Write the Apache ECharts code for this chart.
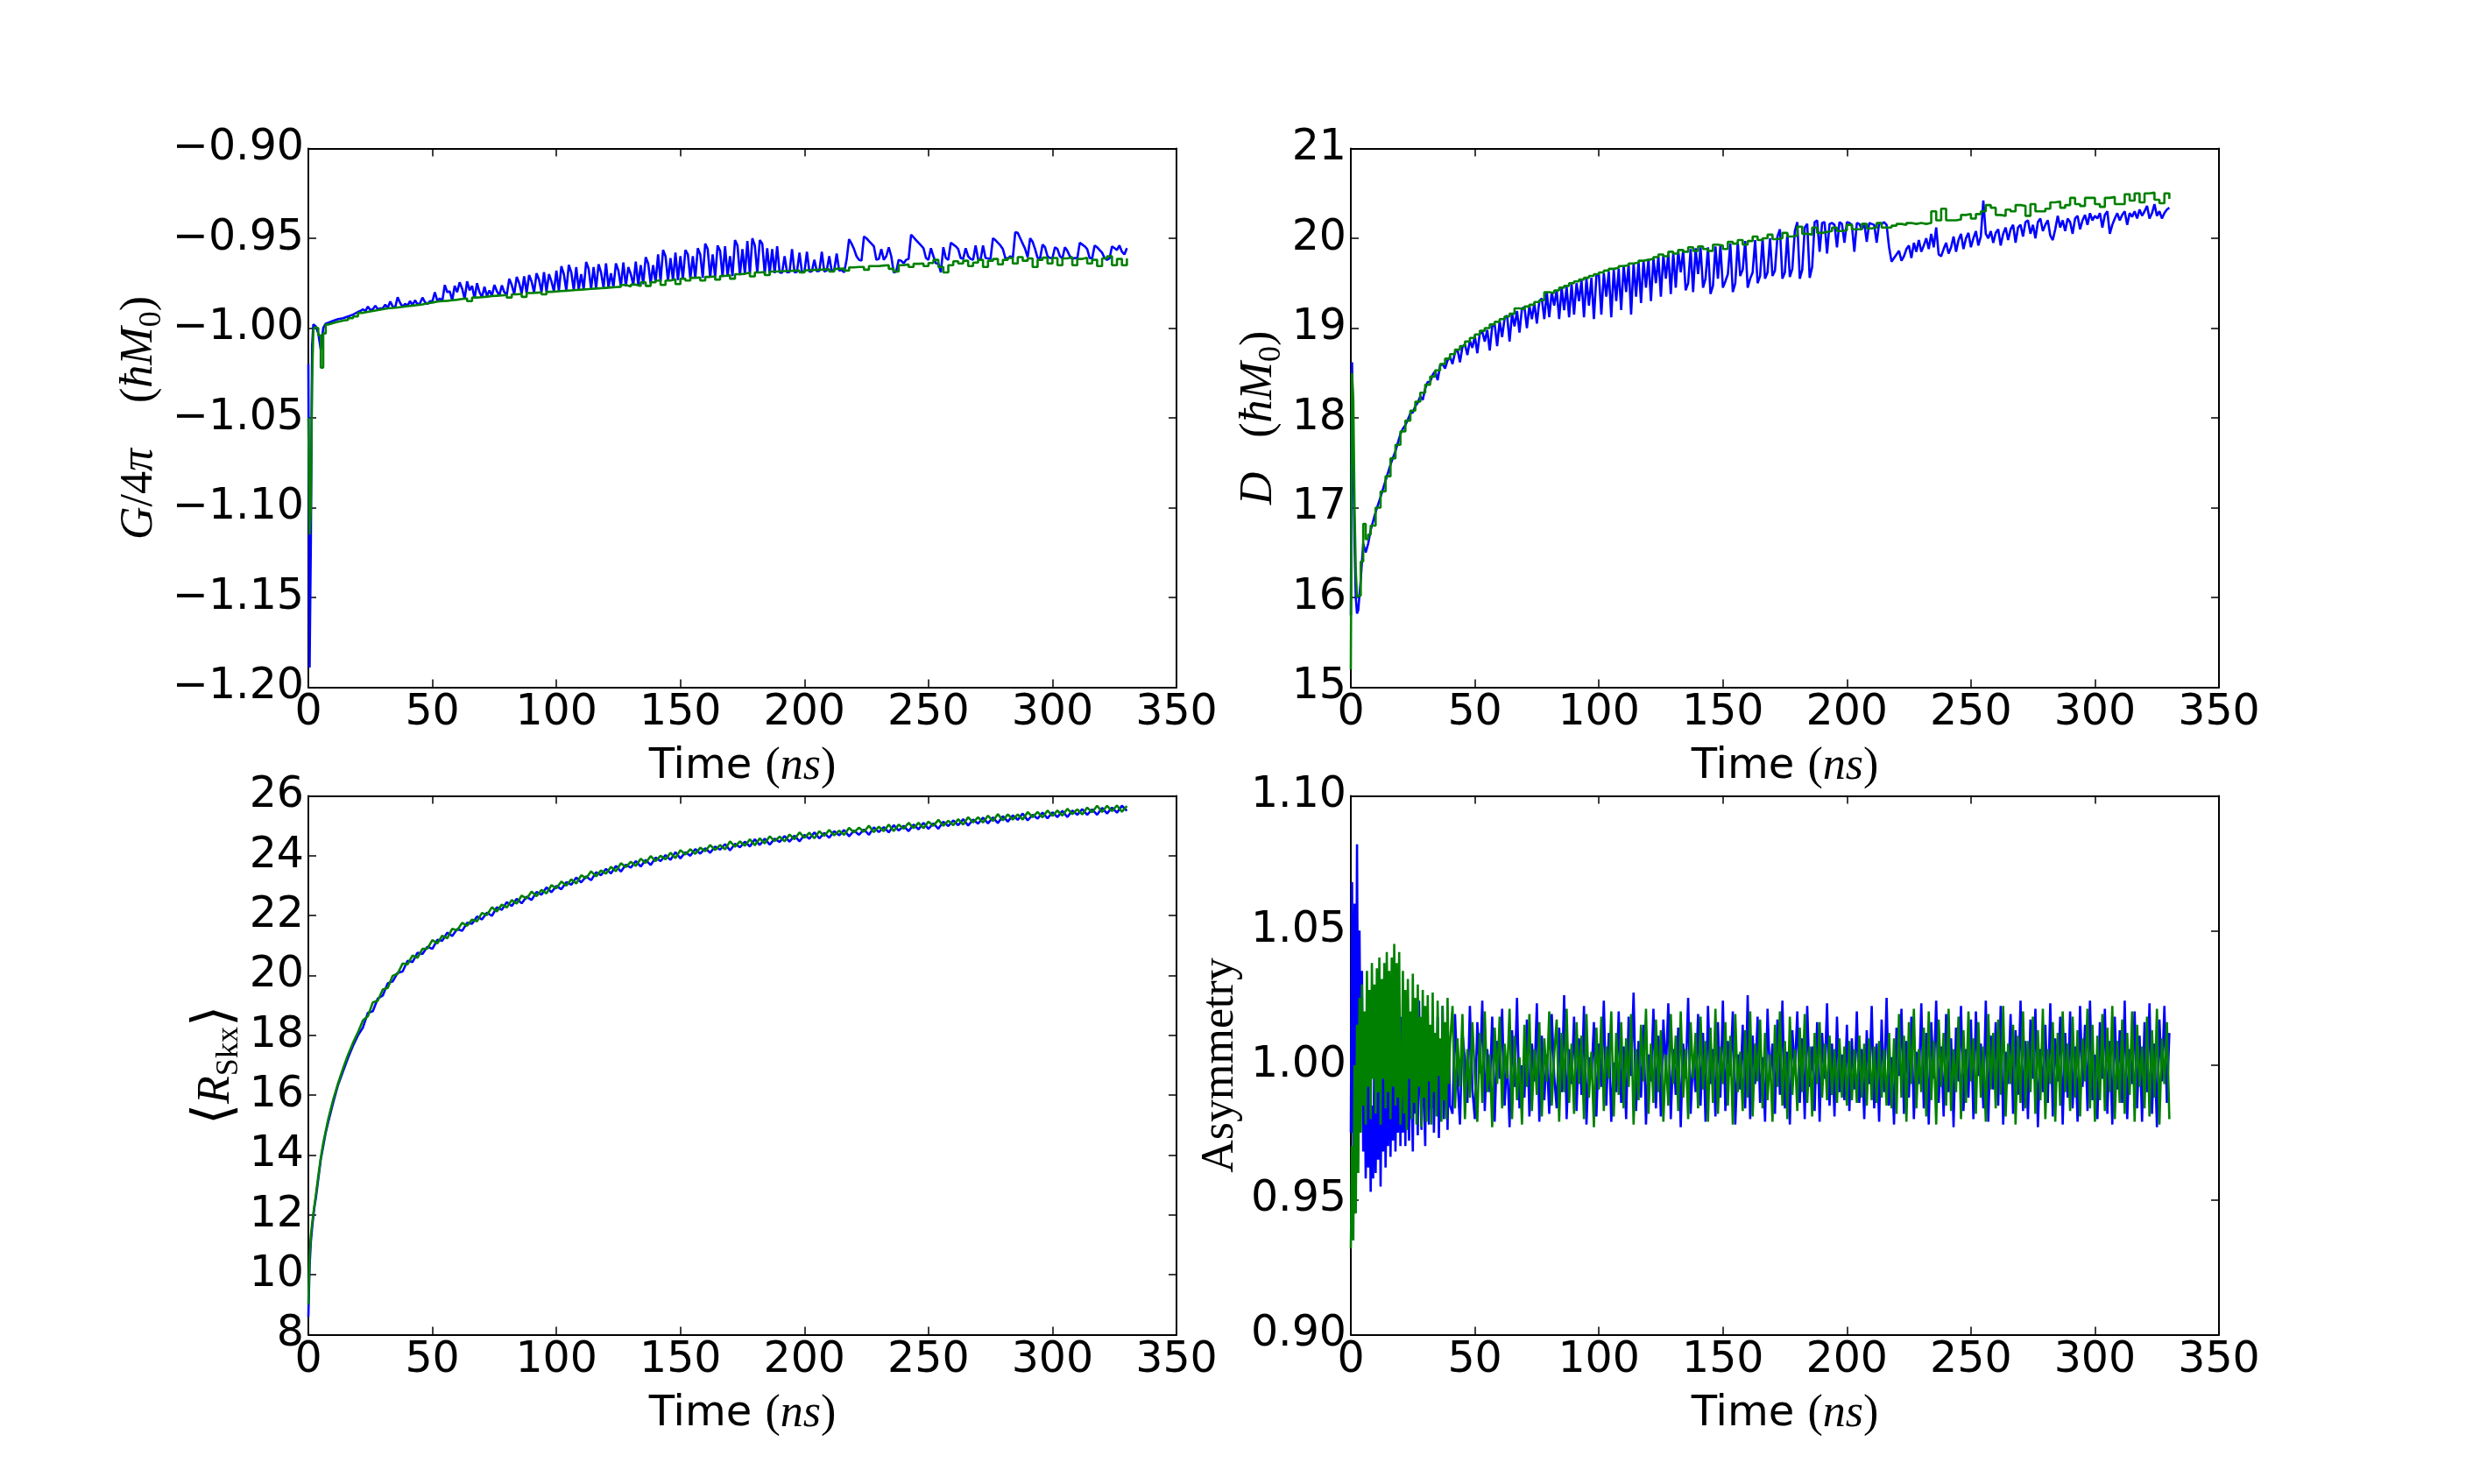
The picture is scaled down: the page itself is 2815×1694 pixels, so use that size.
<!DOCTYPE html>
<html>
<head>
<meta charset="utf-8">
<title>Skyrmion lattice relaxation</title>
<script src="https://cdn.jsdelivr.net/npm/echarts@6/dist/echarts.min.js"></script>
<style>
  html, body { margin: 0; padding: 0; background: #fff; }
  #chart { width: 2815px; height: 1694px; }
</style>
</head>
<body>
<div id="chart"></div>
<script>
// coarse time axis (ns): green G, green D and both <R> curves
const tA = [0,0.5,1,1.5,2,2.5,3,4,5,6,7,8,10,12,14,16,18,20,
  22,24,26,28,30,32,34,36,38,40,
  42,44,46,48,50,52,54,56,58,60,
  62,64,66,68,70,72,74,76,78,80,
  82,84,86,88,90,92,94,96,98,100,
  102,104,106,108,110,112,114,116,118,120,
  122,124,126,128,130,132,134,136,138,140,
  142,144,146,148,150,152,154,156,158,160,
  162,164,166,168,170,172,174,176,178,180,
  182,184,186,188,190,192,194,196,198,200,
  202,204,206,208,210,212,214,216,218,220,
  222,224,226,228,230,232,234,236,238,240,
  242,244,246,248,250,252,254,256,258,260,
  262,264,266,268,270,272,274,276,278,280,
  282,284,286,288,290,292,294,296,298,300,
  302,304,306,308,310,312,314,316,318,320,
  322,324,326,328,330];

// fine time axis (ns): the spiky blue G and D curves
const tD = [0,0.5,1,1.5,2,2.5,3,4,5,6,7,8,10,12,14,16,18,
  20,21,22,23,24,25,26,27,28,29, 30,31,32,33,34,35,36,37,38,39,
  40,41,42,43,44,45,46,47,48,49, 50,51,52,53,54,55,56,57,58,59,
  60,61,62,63,64,65,66,67,68,69, 70,71,72,73,74,75,76,77,78,79,
  80,81,82,83,84,85,86,87,88,89, 90,91,92,93,94,95,96,97,98,99,
  100,101,102,103,104,105,106,107,108,109, 110,111,112,113,114,115,116,117,118,119,
  120,121,122,123,124,125,126,127,128,129, 130,131,132,133,134,135,136,137,138,139,
  140,141,142,143,144,145,146,147,148,149, 150,151,152,153,154,155,156,157,158,159,
  160,161,162,163,164,165,166,167,168,169, 170,171,172,173,174,175,176,177,178,179,
  180,181,182,183,184,185,186,187,188,189, 190,191,192,193,194,195,196,197,198,199,
  200,201,202,203,204,205,206,207,208,209, 210,211,212,213,214,215,216,217,218,219,
  220,221,222,223,224,225,226,227,228,229, 230,231,232,233,234,235,236,237,238,239,
  240,241,242,243,244,245,246,247,248,249, 250,251,252,253,254,255,256,257,258,259,
  260,261,262,263,264,265,266,267,268,269, 270,271,272,273,274,275,276,277,278,279,
  280,281,282,283,284,285,286,287,288,289, 290,291,292,293,294,295,296,297,298,299,
  300,301,302,303,304,305,306,307,308,309, 310,311,312,313,314,315,316,317,318,319,
  320,321,322,323,324,325,326,327,328,329, 330];

// G / 4pi  (hbar M0)
const gBlue = [-1.020,-1.189,-1.120,-1.010,-0.998,-0.9985,-0.9990,-1.003,-1.012,-1.000,-0.9975,-0.9970,-0.9960,-0.9950,-0.9945,-0.9935,-0.9925,
  -0.9910,-0.9905,-0.9895,-0.9905,-0.9880,-0.9900,-0.9895,-0.9875,-0.9895,-0.9890,
  -0.9890,-0.9870,-0.9888,-0.9852,-0.9880,-0.9885,-0.9828,-0.9860,-0.9882,-0.9865,
  -0.9875,-0.9850,-0.9872,-0.9845,-0.9868,-0.9862,-0.9830,-0.9855,-0.9866,-0.9850,
  -0.9852,-0.9800,-0.9848,-0.9835,-0.9850,-0.9760,-0.9800,-0.9795,-0.9846,-0.9765,
  -0.9800,-0.9745,-0.9780,-0.9838,-0.9740,-0.9790,-0.9765,-0.9835,-0.9750,-0.9800,
  -0.9828,-0.9770,-0.9822,-0.9790,-0.9820,-0.9760,-0.9795,-0.9818,-0.9762,-0.9800,
  -0.9815,-0.9725,-0.9760,-0.9812,-0.9715,-0.9750,-0.9808,-0.9712,-0.9805,-0.9705,
  -0.9740,-0.9802,-0.9695,-0.9730,-0.9800,-0.9688,-0.9798,-0.9700,-0.9740,-0.9796,
  -0.9680,-0.9794,-0.9655,-0.9700,-0.9790,-0.9648,-0.9690,-0.9788,-0.9660,-0.9786,
  -0.9700,-0.9784,-0.9632,-0.9670,-0.9782,-0.9660,-0.9780,-0.9645,-0.9690,-0.9776,
  -0.9640,-0.9774,-0.9695,-0.9772,-0.9640,-0.9680,-0.9768,-0.9635,-0.9768,-0.9660,
  -0.9700,-0.9760,-0.9630,-0.9760,-0.9650,-0.9755,-0.9605,-0.9640,-0.9752,-0.9650,
  -0.9745,-0.9590,-0.9740,-0.9565,-0.9600,-0.9738,-0.9610,-0.9735,-0.9580,-0.9732,
  -0.9600,-0.9728,-0.9565,-0.9590,-0.9725,-0.9600,-0.9722,-0.9555,-0.9590,-0.9720,
  -0.9530,-0.9560,-0.9718,-0.9590,-0.9716,-0.9540,-0.9570,-0.9715,-0.9545,-0.9712,
  -0.9600,-0.9710,-0.9510,-0.9540,-0.9705,-0.9560,-0.9700,-0.9515,-0.9700,-0.9500,
  -0.9540,-0.9695,-0.9510,-0.9530,-0.9700,-0.9555,-0.9698,-0.9560,-0.9695,-0.9545,
  -0.9690,-0.9692,-0.9600,-0.9690,-0.9688,-0.9560,-0.9690,-0.9686,-0.9580,-0.9690,
  -0.9688,-0.9575,-0.9686,-0.9684,-0.9620,-0.9684,-0.9682,-0.9575,-0.9685,-0.9680,
  -0.9600,-0.9682,-0.9678,-0.9585,-0.9680,-0.9676,-0.9690,-0.9620,-0.9505,-0.9530,
  -0.9560,-0.9600,-0.9620,-0.9625,-0.9490,-0.9500,-0.9515,-0.9530,-0.9545,-0.9620,
  -0.9615,-0.9560,-0.9620,-0.9600,-0.9550,-0.9600,-0.9690,-0.9685,-0.9620,-0.9625,
  -0.9640,-0.9620,-0.9615,-0.9480,-0.9495,-0.9510,-0.9525,-0.9540,-0.9555,-0.9610,
  -0.9620,-0.9555,-0.9600,-0.9640,-0.9640,-0.9690,-0.9550,-0.9610,-0.9620,-0.9525,
  -0.9535,-0.9545,-0.9560,-0.9610,-0.9615,-0.9555,-0.9600,-0.9615,-0.9620,-0.9540,
  -0.9615,-0.9620,-0.9540,-0.9610,-0.9612,-0.9615,-0.9500,-0.9510,-0.9525,-0.9540,
  -0.9560,-0.9610,-0.9612,-0.9600,-0.9610,-0.9466,-0.9470,-0.9500,-0.9530,-0.9560,
  -0.9605,-0.9500,-0.9520,-0.9560,-0.9610,-0.9612,-0.9535,-0.9550,-0.9600,-0.9610,
  -0.9610,-0.9550,-0.9560,-0.9600,-0.9612,-0.9550,-0.9570,-0.9600,-0.9615,-0.9610,
  -0.9612,-0.9525,-0.9535,-0.9545,-0.9560,-0.9610,-0.9612,-0.9540,-0.9550,-0.9565,
  -0.9580,-0.9610,-0.9620,-0.9612,-0.9545,-0.9555,-0.9565,-0.9540,-0.9575,-0.9590,
  -0.9555];
const gGreen = [-1.050,-1.115,-1.100,-1.030,-1.001,-0.9995,-1.000,-1.004,-1.022,-1.003,-0.9980,-0.9972,-0.9965,-0.9958,-0.9955,-0.9945,-0.9935,-0.9915,
  -0.9910,-0.9905,-0.9900,-0.9895,-0.9890,-0.9888,-0.9885,-0.9882,-0.9878,-0.9875,
  -0.9872,-0.9868,-0.9862,-0.9858,-0.9852,-0.9850,-0.9848,-0.9845,-0.9842,-0.9838,
  -0.9835,-0.9850,-0.9830,-0.9828,-0.9825,-0.9822,-0.9820,-0.9818,-0.9816,-0.9830,
  -0.9812,-0.9810,-0.9826,-0.9805,-0.9803,-0.9801,-0.9812,-0.9798,-0.9796,-0.9794,
  -0.9792,-0.9790,-0.9788,-0.9786,-0.9784,-0.9782,-0.9780,-0.9778,-0.9776,-0.9774,
  -0.9772,-0.9770,-0.9760,-0.9768,-0.9758,-0.9766,-0.9745,-0.9765,-0.9745,-0.9735,
  -0.9760,-0.9735,-0.9728,-0.9755,-0.9725,-0.9735,-0.9720,-0.9718,-0.9735,-0.9715,
  -0.9712,-0.9730,-0.9710,-0.9705,-0.9725,-0.9700,-0.9698,-0.9690,-0.9712,-0.9690,
  -0.9688,-0.9705,-0.9685,-0.9684,-0.9683,-0.9682,-0.9680,-0.9680,-0.9690,-0.9678,
  -0.9676,-0.9675,-0.9674,-0.9672,-0.9685,-0.9670,-0.9668,-0.9680,-0.9662,-0.9660,
  -0.9660,-0.9675,-0.9655,-0.9655,-0.9652,-0.9650,-0.9670,-0.9685,-0.9650,-0.9645,
  -0.9660,-0.9642,-0.9640,-0.9655,-0.9638,-0.9620,-0.9660,-0.9690,-0.9650,-0.9628,
  -0.9640,-0.9625,-0.9655,-0.9635,-0.9620,-0.9660,-0.9625,-0.9615,-0.9645,-0.9620,
  -0.9610,-0.9640,-0.9605,-0.9625,-0.9612,-0.9660,-0.9620,-0.9608,-0.9640,-0.9610,
  -0.9650,-0.9612,-0.9605,-0.9650,-0.9615,-0.9608,-0.9640,-0.9620,-0.9655,-0.9612,
  -0.9600,-0.9650,-0.9615,-0.9650,-0.9612];

// D  (hbar M0)
const dBlue = [15.8,18.62,17.5,16.6,16.0,15.82,15.86,16.2,16.6,16.5,16.6,16.75,16.95,17.12,17.3,17.48,17.63,
  17.82,17.88,17.92,17.98,18.05,18.06,18.13,18.17,18.24,18.20,
  18.33,18.40,18.40,18.48,18.52,18.42,18.58,18.60,18.55,18.64,
  18.68,18.60,18.73,18.76,18.62,18.79,18.82,18.70,18.86,18.78,
  18.91,18.72,18.94,18.96,18.85,18.98,18.75,19.02,19.04,18.80,
  19.08,18.90,19.11,19.14,18.85,19.16,19.02,19.19,18.95,19.22,
  19.23,19.00,19.25,19.10,19.28,19.05,19.30,19.33,19.10,19.40,
  19.12,19.40,19.25,19.42,19.10,19.45,19.20,19.46,19.12,19.49,
  19.15,19.50,19.30,19.53,19.12,19.55,19.25,19.56,19.10,19.58,
  19.60,19.15,19.61,19.35,19.63,19.12,19.65,19.30,19.66,19.20,
  19.70,19.40,19.71,19.15,19.72,19.35,19.74,19.28,19.75,19.45,
  19.77,19.30,19.78,19.50,19.80,19.35,19.81,19.55,19.83,19.38,
  19.84,19.45,19.86,19.62,19.87,19.42,19.50,19.88,19.40,19.89,
  19.60,19.90,19.45,19.55,19.90,19.38,19.47,19.91,19.55,19.92,
  19.45,19.52,19.60,19.94,19.40,19.50,19.96,19.58,19.65,19.97,
  19.45,19.55,19.62,19.98,19.50,19.58,20.00,19.55,19.62,20.00,
  19.58,19.64,20.02,20.10,19.55,19.62,20.05,19.57,19.66,20.08,
  20.18,19.55,19.65,20.12,20.16,19.56,19.68,20.18,20.20,19.85,
  20.17,20.18,19.83,20.16,20.17,20.15,19.90,20.18,20.16,19.95,
  20.18,20.17,20.15,19.85,20.17,20.16,20.10,20.17,19.96,20.17,
  20.16,20.15,19.95,20.17,20.16,20.18,20.15,19.90,19.74,19.78,
  19.82,19.86,19.75,19.80,19.88,19.92,19.78,19.95,19.85,19.98,
  19.85,19.92,20.00,19.88,20.05,19.90,20.12,19.82,19.80,19.88,
  19.95,19.83,19.90,20.02,19.85,19.98,20.05,19.88,20.00,20.06,
  19.90,20.00,20.08,19.92,20.02,20.42,20.05,20.00,20.08,19.95,
  20.06,20.10,19.92,20.05,20.12,19.98,20.10,20.15,19.95,20.12,
  20.15,20.02,20.18,20.20,20.05,20.15,20.00,20.18,20.22,20.08,
  20.15,20.20,20.03,19.98,20.10,20.25,20.12,20.20,20.08,20.22,
  20.18,20.05,20.22,20.25,20.10,20.20,20.26,20.15,20.28,20.20,
  20.25,20.22,20.28,20.12,20.26,20.30,20.05,20.15,20.22,20.28,
  20.20,20.26,20.30,20.15,20.28,20.24,20.30,20.22,20.32,20.25,
  20.30,20.36,20.22,20.28,20.38,20.25,20.30,20.22,20.28,20.32,
  20.34];
const dGreen = [15.2,18.5,18.2,17.0,16.3,16.0,16.02,16.4,16.82,16.65,16.7,16.8,17.0,17.18,17.35,17.55,17.7,17.85,
  17.97,18.08,18.18,18.28,18.37,18.46,18.53,18.60,18.66,18.71,
  18.76,18.80,18.85,18.89,18.93,18.97,19.00,19.04,19.07,19.10,
  19.13,19.16,19.22,19.21,19.24,19.26,19.29,19.31,19.40,19.39,
  19.42,19.45,19.47,19.50,19.52,19.54,19.56,19.58,19.60,19.62,
  19.64,19.66,19.67,19.69,19.70,19.72,19.73,19.75,19.76,19.77,
  19.79,19.82,19.80,19.85,19.83,19.87,19.85,19.90,19.86,19.91,
  19.88,19.86,19.93,19.92,19.88,19.96,19.94,19.98,19.93,19.97,
  20.02,19.98,20.00,20.04,19.99,20.00,20.06,20.02,20.03,20.13,
  20.05,20.04,20.12,20.06,20.07,20.08,20.12,20.08,20.09,20.15,
  20.10,20.10,20.16,20.11,20.12,20.17,20.12,20.12,20.14,20.16,
  20.15,20.17,20.16,20.17,20.16,20.17,20.30,20.20,20.33,20.20,
  20.20,20.21,20.26,20.27,20.22,20.27,20.30,20.37,20.34,20.26,
  20.25,20.32,20.30,20.37,20.36,20.25,20.38,20.30,20.30,20.33,
  20.40,20.41,20.34,20.37,20.45,20.38,20.36,20.45,20.45,20.38,
  20.35,20.45,20.46,20.38,20.38,20.49,20.42,20.50,20.40,20.50,
  20.51,20.43,20.39,20.50,20.44];

// <R_Skx>
const rBlue = [8.60,10.30,11.10,11.55,11.95,12.30,12.55,13.20,13.85,14.30,14.75,15.10,15.75,16.35,16.80,17.25,17.65,18.00,
  18.26,18.75,18.81,19.23,19.33,19.74,19.80,20.09,20.13,20.49,
  20.45,20.76,20.72,20.96,20.89,21.19,21.16,21.43,21.32,21.55,
  21.49,21.76,21.73,21.97,21.87,22.10,21.99,22.28,22.19,22.45,
  22.32,22.56,22.41,22.63,22.52,22.79,22.70,22.94,22.78,22.99,
  22.88,23.12,23.03,23.27,23.11,23.31,23.18,23.45,23.35,23.56,
  23.41,23.66,23.47,23.70,23.60,23.82,23.64,23.86,23.69,23.94,
  23.82,24.02,23.86,24.12,23.91,24.12,24.00,24.22,24.07,24.25,
  24.10,24.31,24.20,24.39,24.18,24.40,24.28,24.47,24.31,24.55,
  24.36,24.57,24.37,24.57,24.46,24.66,24.47,24.67,24.48,24.70,
  24.57,24.78,24.58,24.76,24.60,24.82,24.68,24.86,24.65,24.84,
  24.70,24.88,24.70,24.95,24.79,24.96,24.78,25.02,24.84,25.00,
  24.82,25.04,24.88,25.10,24.90,25.08,24.90,25.14,24.99,25.18,
  25.02,25.22,25.01,25.21,25.07,25.27,25.08,25.28,25.09,25.32,
  25.14,25.35,25.20,25.41,25.18,25.37,25.24,25.44,25.25,25.45,
  25.29,25.50,25.29,25.51,25.37,25.56,25.37,25.55,25.37,25.60,
  25.41,25.61,25.44,25.67,25.50];
const rGreen = [9.00,10.60,11.30,11.70,12.05,12.35,12.65,13.30,13.90,14.40,14.80,15.20,15.85,16.40,16.90,17.35,17.75,18.10,
  18.50,18.64,19.10,19.16,19.53,19.58,19.99,20.06,20.40,20.37,
  20.67,20.59,20.89,20.90,21.18,21.07,21.33,21.24,21.56,21.51,
  21.76,21.66,21.87,21.81,22.09,22.02,22.28,22.14,22.37,22.27,
  22.52,22.40,22.67,22.57,22.80,22.65,22.86,22.74,23.02,22.91,
  23.14,23.00,23.21,23.07,23.35,23.25,23.48,23.31,23.51,23.40,
  23.63,23.48,23.75,23.62,23.80,23.66,23.90,23.76,23.99,23.82,
  24.00,23.88,24.10,23.92,24.19,24.04,24.22,24.06,24.27,24.15,
  24.36,24.19,24.36,24.21,24.48,24.30,24.48,24.33,24.55,24.35,
  24.58,24.41,24.65,24.49,24.64,24.48,24.71,24.55,24.78,24.60,
  24.77,24.58,24.82,24.66,24.86,24.68,24.84,24.70,24.93,24.78,
  24.94,24.80,25.00,24.79,24.97,24.82,25.04,24.82,25.04,24.90,
  25.10,24.92,25.10,24.92,25.14,25.00,25.20,25.00,25.17,25.02,
  25.22,25.04,25.29,25.11,25.29,25.11,25.34,25.16,25.39,25.18,
  25.38,25.21,25.38,25.21,25.46,25.29,25.46,25.28,25.51,25.33,
  25.51,25.34,25.57,25.39,25.55,25.38,25.61,25.45,25.67,25.46,
  25.67,25.49,25.68,25.47,25.66];

// asymmetry panel, its own time axis
const tB = [0,0.5,1,1.5,2,2.5,3,3.5,4,4.5,5,5.5,6,6.5,7,7.5,8,8.5,9,9.5,
  10,10.5,11,11.5,12,12.5,13,13.5,14,14.5,15,15.5,16,16.5,17,17.5,18,18.5,19,19.5,
  20,20.5,21,21.5,22,22.5,23,23.5,24,24.5,25,25.5,26,26.5,27,27.5,28,28.5,29,29.5,
  30,30.5,31,31.5,32,32.5,33,33.5,34,34.5,35,35.5,36,36.5,37,37.5,38,38.5,39,39.5,40,
  41,42,43,44,45,46,47,48,49,50, 51,52,53,54,55,56,57,58,59,60,
  61,62,63,64,65,66,67,68,69,70, 71,72,73,74,75,76,77,78,79,80,
  81,82,83,84,85,86,87,88,89,90, 91,92,93,94,95,96,97,98,99,100,
  101,102,103,104,105,106,107,108,109,110, 111,112,113,114,115,116,117,118,119,120,
  121,122,123,124,125,126,127,128,129,130, 131,132,133,134,135,136,137,138,139,140,
  141,142,143,144,145,146,147,148,149,150, 151,152,153,154,155,156,157,158,159,160,
  161,162,163,164,165,166,167,168,169,170, 171,172,173,174,175,176,177,178,179,180,
  181,182,183,184,185,186,187,188,189,190, 191,192,193,194,195,196,197,198,199,200,
  201,202,203,204,205,206,207,208,209,210, 211,212,213,214,215,216,217,218,219,220,
  221,222,223,224,225,226,227,228,229,230, 231,232,233,234,235,236,237,238,239,240,
  241,242,243,244,245,246,247,248,249,250, 251,252,253,254,255,256,257,258,259,260,
  261,262,263,264,265,266,267,268,269,270, 271,272,273,274,275,276,277,278,279,280,
  281,282,283,284,285,286,287,288,289,290, 291,292,293,294,295,296,297,298,299,300,
  301,302,303,304,305,306,307,308,309,310, 311,312,313,314,315,316,317,318,319,320,
  321,322,323,324,325,326,327,328,329,330];
const aBlue = [0.975,1.068,0.962,1.060,0.985,1.082,0.978,1.050,0.990,1.035,0.968,1.010,0.958,0.995,0.962,1.000,0.953,0.985,0.958,1.005,
  0.960,0.990,0.965,1.020,0.955,0.998,0.968,1.015,0.962,0.992,0.970,1.025,0.966,1.000,0.972,1.018,0.968,1.005,0.975,1.022,
  0.970,1.018,0.975,1.005,0.970,1.022,0.985,0.972,1.012,0.990,0.968,1.020,0.982,1.008,0.974,1.024,0.992,0.976,1.015,0.986,
  0.970,1.019,0.995,0.978,1.010,0.984,1.021,0.975,1.002,0.988,1.018,0.973,1.006,0.990,1.022,0.980,0.996,1.014,0.976,1.008,0.985,
  0.982,1.019,0.995,0.978,1.012,1.002,0.986,1.022,0.991,0.980,
  1.016,0.997,1.024,0.983,1.006,0.990,1.018,0.979,1.009,0.995,
  1.021,0.985,1.003,0.977,1.013,0.992,1.025,0.984,1.000,0.988,
  1.017,0.981,1.008,0.994,1.023,0.979,1.011,0.987,1.004,0.982,
  1.019,0.996,0.984,1.014,0.990,1.026,0.980,1.006,0.993,1.018,
  0.983,1.010,0.989,1.022,0.978,1.003,0.995,1.016,0.981,1.008,
  0.992,1.024,0.985,1.012,0.979,1.001,0.990,1.020,0.986,1.007,
  0.980,1.018,0.996,1.027,0.983,1.009,0.988,1.015,0.978,1.004,
  0.994,1.021,0.984,1.011,0.981,1.017,0.997,1.023,0.980,1.006,
  0.989,1.014,0.977,1.008,0.995,1.025,0.982,1.003,0.990,1.019,
  0.985,1.012,0.979,1.022,0.993,1.006,0.981,1.016,0.988,1.024,
  0.983,1.009,0.996,1.020,0.978,1.004,0.991,1.015,0.984,1.026,
  0.980,1.011,0.993,1.018,0.986,1.003,0.979,1.021,0.995,1.008,
  0.982,1.017,0.989,1.024,0.984,1.005,0.978,1.013,0.997,1.020,
  0.986,1.010,0.980,1.022,0.992,1.007,0.983,1.016,0.979,1.012,
  0.995,1.023,0.985,1.008,0.981,1.018,0.990,1.004,0.987,1.015,
  0.983,1.010,0.991,1.020,0.986,1.006,0.980,1.013,0.993,1.022,
  0.984,1.008,0.979,1.017,0.990,1.025,0.985,1.003,0.978,1.014,
  0.996,1.021,0.982,1.009,0.988,1.018,0.980,1.005,0.993,1.023,
  0.984,1.012,0.978,1.016,0.995,1.024,0.986,1.007,0.981,1.019,
  0.990,1.010,0.977,1.014,0.994,1.022,0.983,1.006,0.988,1.017,
  0.980,1.020,0.996,1.008,0.984,1.024,0.979,1.011,0.991,1.016,
  0.985,1.022,0.978,1.005,0.993,1.019,0.982,1.013,0.989,1.024,
  0.983,1.009,0.980,1.017,0.995,1.021,0.977,1.006,0.990,1.015,
  0.986,1.023,0.981,1.010,0.994,1.018,0.978,1.012,0.988,1.020,
  0.984,1.007,0.979,1.022,0.992,1.015,0.983,1.024,0.987,1.004,
  0.980,1.016,0.995,1.021,0.982,1.009,0.978,1.018,0.991,1.013,
  0.986,1.024,0.980,1.006,0.993,1.020,0.984,1.011,0.979,1.016,
  0.990,1.023,0.982,1.008,0.977,1.017,0.994,1.022,0.986,1.012];
const aGreen = [0.932,0.970,0.935,1.000,0.945,1.015,0.960,1.025,0.975,1.030,0.985,1.020,0.978,1.035,0.992,1.028,0.980,1.038,0.995,1.030,
  0.982,1.036,0.990,1.040,0.978,1.032,0.995,1.038,0.984,1.042,0.990,1.035,0.980,1.040,0.992,1.045,0.985,1.038,0.988,1.042,
  0.978,0.990,1.035,0.982,1.028,0.976,1.032,0.995,1.020,0.980,1.034,0.986,1.025,0.978,1.030,0.992,1.018,0.977,1.028,0.988,
  1.022,0.979,1.026,0.994,1.015,0.978,1.027,0.990,1.012,0.981,1.024,0.996,1.010,0.979,1.022,0.987,1.016,0.980,1.025,0.993,1.008,
  1.022,0.984,1.010,0.992,1.019,0.980,1.006,0.988,1.016,0.996,
  0.979,1.012,0.986,1.020,0.990,1.004,0.977,1.014,0.993,1.018,
  0.984,1.008,0.995,1.021,0.980,1.011,0.987,1.003,0.978,1.015,
  0.992,1.019,0.983,1.006,0.989,1.016,0.981,1.010,0.994,1.020,
  0.985,1.004,1.017,0.979,1.012,0.990,1.021,0.986,1.008,0.982,
  1.016,0.993,1.011,0.980,1.019,0.988,1.005,0.977,1.014,0.991,
  1.018,0.983,1.007,0.995,1.020,0.981,1.012,0.989,1.016,0.984,
  1.010,0.992,1.019,0.978,1.006,0.987,1.015,0.994,1.021,0.982,
  1.008,0.986,1.017,0.990,1.013,0.979,1.004,0.985,1.019,0.993,
  1.011,0.983,1.020,0.988,1.006,0.980,1.016,0.995,1.012,0.984,
  1.018,0.991,1.009,0.979,1.014,0.986,1.021,0.982,1.007,0.993,
  1.016,0.985,1.011,0.978,1.019,0.990,1.005,0.983,1.013,0.988,
  1.020,0.981,1.008,0.994,1.017,0.984,1.012,0.987,1.004,0.979,
  1.015,0.992,1.020,0.985,1.009,0.980,1.018,0.989,1.006,0.983,
  1.014,0.990,1.019,0.986,1.007,0.981,1.012,0.993,1.016,0.988,
  1.008,0.987,1.011,0.989,1.006,0.986,1.010,0.988,1.007,0.985,
  1.009,0.987,1.006,0.986,1.011,0.988,1.008,0.985,1.010,0.987,
  1.007,0.986,1.009,0.988,1.006,0.985,1.012,0.984,1.010,0.982,
  1.019,0.988,1.011,0.979,1.016,0.993,1.021,0.984,1.006,0.990,
  1.014,0.981,1.020,0.987,1.009,0.978,1.017,0.992,1.012,0.985,
  1.021,0.983,1.006,0.990,1.018,0.980,1.013,0.986,1.020,0.994,
  1.010,0.982,1.016,0.988,1.007,0.979,1.019,0.991,1.012,0.984,
  1.017,0.989,1.022,0.981,1.008,0.993,1.015,0.978,1.011,0.986,
  1.020,0.984,1.009,0.990,1.018,0.982,1.013,0.987,1.021,0.980,
  1.006,0.993,1.016,0.979,1.012,0.985,1.020,0.990,1.008,0.983,
  1.018,0.988,1.013,0.981,1.010,0.994,1.021,0.984,1.015,0.979,
  1.011,0.987,1.019,0.983,1.014,0.990,1.022,0.980,1.009,0.986,
  1.017,0.982,1.012,0.989,1.020,0.979,1.015,0.992,1.007,0.984,
  1.018,0.981,1.013,0.988,1.021,0.978,1.010,0.993,1.016,0.980];

const BLUE = '#0000ff';
const GREEN = '#008000';
const SERIF = "'Liberation Serif', 'DejaVu Serif', serif";
const SANS = "'DejaVu Sans', sans-serif";

// math-style axis titles
const rich = {
  it:  { fontFamily: SERIF, fontStyle: 'italic', fontSize: 52, lineHeight: 66, color: '#000' },
  rm:  { fontFamily: SERIF, fontSize: 52, lineHeight: 66, color: '#000' },
  sub: { fontFamily: SERIF, fontSize: 36, lineHeight: 36, verticalAlign: 'bottom', color: '#000' },
  br:  { fontFamily: SANS, fontSize: 62, lineHeight: 66, color: '#000' },
  sans:{ fontFamily: SANS, fontSize: 48, lineHeight: 66, color: '#000' }
};

const panels = [
  { left: 352, top: 169.5, min: -1.2, max: -0.9, step: 0.05, dec: 2,
    name: '{it|G}{rm|/4}{it|π}{rm|    (}{it|ħM}{sub|0}{rm|)}', gap: 160,
    tBlue: tD, blue: gBlue, tGreen: tA, green: gGreen, stepped: true },
  { left: 1542, top: 169.5, min: 15, max: 21, step: 1, dec: 0,
    name: '{it|D}{rm|   (}{it|ħM}{sub|0}{rm|)}', gap: 72,
    tBlue: tD, blue: dBlue, tGreen: tA, green: dGreen, stepped: true },
  { left: 352, top: 908.5, min: 8, max: 26, step: 2, dec: 0,
    name: '{br|⟨}{it|R}{sub|Skx}{br|⟩}', gap: 72,
    tBlue: tA, blue: rBlue, tGreen: tA, green: rGreen, stepped: false },
  { left: 1542, top: 908.5, min: 0.9, max: 1.1, step: 0.05, dec: 2,
    name: '{rm|Asymmetry}', gap: 116,
    tBlue: tB, blue: aBlue, tGreen: tB, green: aGreen, stepped: false }
];

const fmt = dec => v => {
  const s = Math.abs(v).toFixed(dec);
  return v < -1e-9 ? '\u2212' + s : s;
};

const line = { lineStyle: { color: '#000', width: 2 } };
const tick = { inside: true, length: 9, lineStyle: { color: '#000', width: 1.5 } };
const label = { color: '#000', fontFamily: SANS, fontSize: 49 };

const grid = [], xAxis = [], yAxis = [], series = [];
panels.forEach((p, i) => {
  grid.push({ left: p.left, top: p.top, width: 991, height: 615, outerBoundsMode: 'none' });
  xAxis.push({
    type: 'value', gridIndex: i, position: 'bottom', min: 0, max: 350, interval: 50,
    axisLine: Object.assign({ onZero: false }, line), axisTick: tick, splitLine: { show: false },
    axisLabel: Object.assign({ margin: 5 }, label),
    name: '{sans|Time }{rm|(}{it|ns}{rm|)}', nameLocation: 'middle', nameGap: 58,
    nameMoveOverlap: false, nameTextStyle: { rich }
  });
  xAxis.push({
    type: 'value', gridIndex: i, position: 'top', min: 0, max: 350, interval: 50,
    axisLine: Object.assign({ onZero: false }, line), axisTick: tick,
    axisLabel: { show: false }, splitLine: { show: false }
  });
  yAxis.push({
    type: 'value', gridIndex: i, position: 'left', min: p.min, max: p.max, interval: p.step,
    axisLine: Object.assign({ onZero: false }, line), axisTick: tick, splitLine: { show: false },
    axisLabel: Object.assign({ margin: 5, formatter: fmt(p.dec) }, label),
    name: p.name, nameLocation: 'middle', nameRotate: 90, nameGap: p.gap,
    nameMoveOverlap: false, nameTextStyle: { rich }
  });
  yAxis.push({
    type: 'value', gridIndex: i, position: 'right', min: p.min, max: p.max, interval: p.step,
    axisLine: Object.assign({ onZero: false }, line), axisTick: tick,
    axisLabel: { show: false }, splitLine: { show: false }
  });
  const pts = (ts, vs) => ts.map((t, k) => [t, vs[k]]);
  series.push({
    type: 'line', xAxisIndex: 2 * i, yAxisIndex: 2 * i, data: pts(p.tBlue, p.blue),
    symbol: 'none', lineStyle: { color: BLUE, width: 2.6 }, itemStyle: { color: BLUE },
    silent: true
  });
  series.push({
    type: 'line', xAxisIndex: 2 * i, yAxisIndex: 2 * i, data: pts(p.tGreen, p.green),
    symbol: 'none', step: p.stepped ? 'end' : false,
    lineStyle: { color: GREEN, width: 2.6 }, itemStyle: { color: GREEN },
    silent: true
  });
});

const chart = echarts.init(document.getElementById('chart'));
chart.setOption({
  animation: false,
  backgroundColor: '#fff',
  grid, xAxis, yAxis, series
});
</script>
</body>
</html>
